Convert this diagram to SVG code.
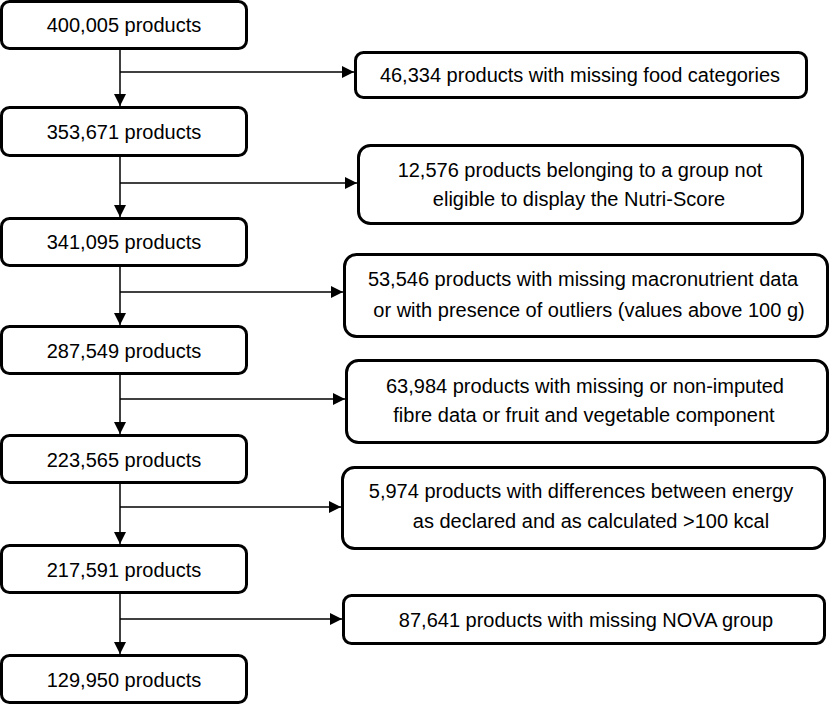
<svg xmlns="http://www.w3.org/2000/svg" width="830" height="705" viewBox="0 0 830 705">
<style>
.box{fill:#fff;stroke:#000;stroke-width:3}
.t{font-family:"Liberation Sans",Arial,sans-serif;font-size:20px;fill:#000;text-anchor:middle}
.c{stroke:#000;stroke-width:1.5;fill:none}
</style>
<defs>
<marker id="ah" viewBox="0 0 12 12" refX="12" refY="6" markerWidth="12" markerHeight="12" markerUnits="userSpaceOnUse" orient="auto">
<path d="M0,0 L12,6 L0,12 Z" fill="#000"/>
</marker>
</defs>
<rect width="830" height="705" fill="#fff"/>
<g id="connectors">
<line class="c" x1="120" y1="49" x2="120" y2="106" marker-end="url(#ah)"/>
<line class="c" x1="120" y1="156" x2="120" y2="217" marker-end="url(#ah)"/>
<line class="c" x1="120" y1="266" x2="120" y2="325" marker-end="url(#ah)"/>
<line class="c" x1="120" y1="374" x2="120" y2="434" marker-end="url(#ah)"/>
<line class="c" x1="120" y1="483" x2="120" y2="544" marker-end="url(#ah)"/>
<line class="c" x1="120" y1="593" x2="120" y2="654" marker-end="url(#ah)"/>
<line class="c" x1="120" y1="72" x2="354" y2="72" marker-end="url(#ah)"/>
<line class="c" x1="120" y1="183" x2="357" y2="183" marker-end="url(#ah)"/>
<line class="c" x1="120" y1="292" x2="343" y2="292" marker-end="url(#ah)"/>
<line class="c" x1="120" y1="399" x2="345" y2="399" marker-end="url(#ah)"/>
<line class="c" x1="120" y1="507" x2="341" y2="507" marker-end="url(#ah)"/>
<line class="c" x1="120" y1="619" x2="342" y2="619" marker-end="url(#ah)"/>
</g>
<g id="n1"><rect class="box" x="1.5" y="1.5" width="245" height="47" rx="8"/><text class="t" x="124" y="32">400,005 products</text></g>
<g id="n2"><rect class="box" x="1.5" y="107.5" width="245" height="48" rx="8"/><text class="t" x="124" y="139">353,671 products</text></g>
<g id="n3"><rect class="box" x="1.5" y="218.5" width="245" height="47" rx="8"/><text class="t" x="124" y="249">341,095 products</text></g>
<g id="n4"><rect class="box" x="1.5" y="326.5" width="245" height="47" rx="8"/><text class="t" x="124" y="358">287,549 products</text></g>
<g id="n5"><rect class="box" x="1.5" y="435.5" width="245" height="47" rx="8"/><text class="t" x="124" y="467">223,565 products</text></g>
<g id="n6"><rect class="box" x="1.5" y="545.5" width="245" height="47" rx="8"/><text class="t" x="124" y="577">217,591 products</text></g>
<g id="n7"><rect class="box" x="1.5" y="655.5" width="245" height="47" rx="8"/><text class="t" x="124" y="687">129,950 products</text></g>
<g id="e1"><rect class="box" x="355.5" y="52.5" width="451" height="45" rx="8"/><text class="t" x="580" y="82">46,334 products with missing food categories</text></g>
<g id="e2"><rect class="box" x="358.5" y="145.5" width="444" height="78" rx="12"/><text class="t" x="580" y="177">12,576 products belonging to a group not</text><text class="t" x="579" y="206">eligible to display the Nutri-Score</text></g>
<g id="e3"><rect class="box" x="344.5" y="254.5" width="483" height="82" rx="12"/><text class="t" x="583" y="286">53,546 products with missing macronutrient data</text><text class="t" x="589" y="317">or with presence of outliers (values above 100 g)</text></g>
<g id="e4"><rect class="box" x="346.5" y="360.5" width="481" height="82" rx="12"/><text class="t" x="585" y="393">63,984 products with missing or non-imputed</text><text class="t" x="584" y="422">fibre data or fruit and vegetable component</text></g>
<g id="e5"><rect class="box" x="342.5" y="467.5" width="482" height="81" rx="12"/><text class="t" x="581" y="498">5,974 products with differences between energy</text><text class="t" x="591" y="528">as declared and as calculated &gt;100 kcal</text></g>
<g id="e6"><rect class="box" x="343.5" y="595.5" width="481" height="48" rx="8"/><text class="t" x="586" y="627">87,641 products with missing NOVA group</text></g>
</svg>
